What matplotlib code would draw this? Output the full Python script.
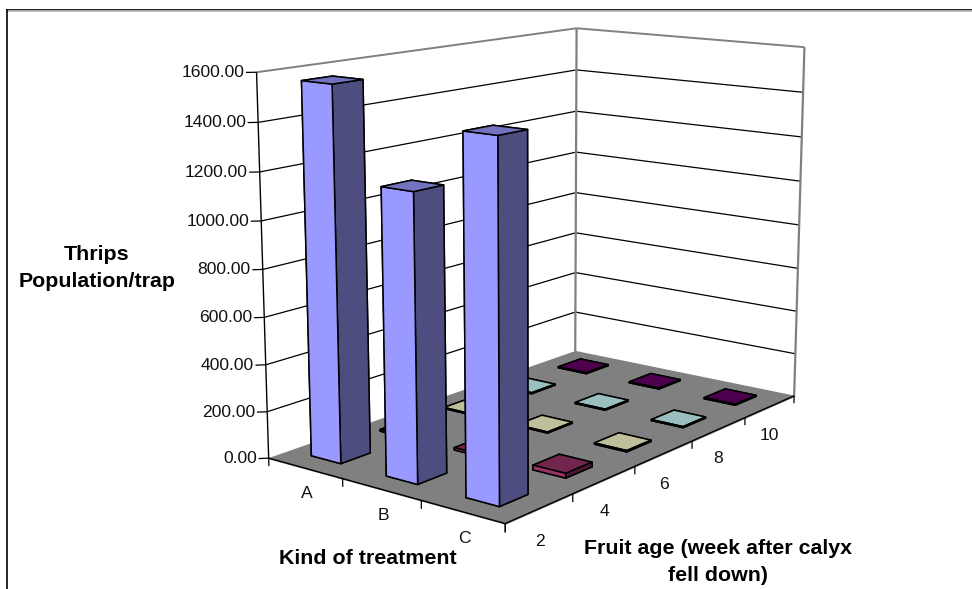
import numpy as np
import matplotlib
matplotlib.use("Agg")
import matplotlib.pyplot as plt
from matplotlib.lines import Line2D
from mpl_toolkits.mplot3d import proj3d
from mpl_toolkits.mplot3d.art3d import Line3DCollection, Poly3DCollection

plt.rcParams['font.family'] = ['Liberation Sans', 'DejaVu Sans']

# Chart values
treatments = ["A", "B", "C"]
ages = ["2", "4", "6", "8", "10"]
age_2 = [1563, 1183, 1443]
age_4 = [8, 10, 20]
age_6 = [5, 5, 6]
age_8 = [5, 5, 5]
age_10 = [5, 5, 5]
series = [age_2, age_4, age_6, age_8, age_10]
z_ticks = [0, 200, 400, 600, 800, 1000, 1200, 1400, 1600]
series_colors = ["#9999FF", "#993366", "#FFFFCC", "#CCFFFF", "#660066"]

W, H = 972, 589
Z_TOP = z_ticks[-1]
NX, NY = len(treatments), len(ages)
GREY = "#808080"
TEXT = "#111111"

fig = plt.figure(figsize=(W / 100, H / 100), dpi=100)
# square axes, wider than the figure is tall, so nothing gets clipped
ax = fig.add_axes([0, (H - W) / 2 / H, 1, W / H], projection="3d")
ax.set_axis_off()
ax.computed_zorder = False
ax.apply_aspect()

# Camera: fit a perspective projection to the box corners seen in the picture
box_corners = [(0, 0, 0), (NX, 0, 0), (NX, NY, 0), (0, NY, 0),
               (0, 0, Z_TOP), (NX, NY, Z_TOP), (0, NY, Z_TOP)]
pixel_corners = [(268.7, 458), (504.7, 524), (794, 395), (575.7, 351.7),
                 (257, 72), (805, 47.7), (575.7, 28)]
rows = []
for (x, y, z), (px, py) in zip(box_corners, pixel_corners):
    p = [x, y, z / 400, 1]
    v = H - py
    rows.append(p + [0, 0, 0, 0] + [-px * c for c in p])
    rows.append([0, 0, 0, 0] + p + [-v * c for c in p])
P = np.linalg.svd(np.array(rows))[2][-1].reshape(3, 4)
P = P @ np.diag([1, 1, 1 / 400, 1])
P = np.linalg.inv(ax.transData.get_matrix()) @ P
P = P / (P[2] @ [NX / 2, NY / 2, 0, 1])
M = np.vstack([P[0], P[1], P[2] - [0, 0, 0, 1], P[2]])
ax.get_proj = lambda: M


def line3d(xs, ys, zs, color="black", lw=0.9, zorder=2):
    pts = list(zip(xs, ys, zs))
    segs = [pts[k:k + 2] for k in range(len(pts) - 1)]
    ax.add_collection3d(Line3DCollection(segs, colors=color, linewidths=lw, zorder=zorder))


def label3d(x, y, z, s, **kw):
    u, v, _ = proj3d.proj_transform(x, y, z, M)
    ax.text2D(u, v, s, fontsize=12.6, color=TEXT, zorder=3, **kw)


# Floor
floor = [[(0, 0, 0), (NX, 0, 0), (NX, NY, 0), (0, NY, 0)]]
ax.add_collection3d(Poly3DCollection(floor, facecolors=GREY, edgecolors=GREY,
                                     linewidths=1, zorder=1))

# Wall grid lines
for t in z_ticks:
    if t > 0:
        c = GREY if t == Z_TOP else "black"
        line3d([0, 0, NX], [0, NY, NY], [t, t, t], c, 1.4 if t == Z_TOP else 0.9)
    line3d([-0.07, 0], [-0.07, 0], [t, t])
    label3d(-0.08, -0.08, t, f"{t:.2f}", ha="right", va="center")

# Box edges
line3d([0, 0], [0, 0], [0, Z_TOP], "black", 1.0)
line3d([0, 0], [NY, NY], [0, Z_TOP], GREY, 1.6)
line3d([NX, NX], [NY, NY], [0, Z_TOP], GREY, 1.6)
line3d([0, NX, NX], [0, 0, NY], [0, 0, 0], "black", 1.0)

# Ticks under the floor
for i in range(NX + 1):
    line3d([i, i], [0, 0], [0, -35])
for j in range(NY + 1):
    line3d([NX, NX], [j, j], [0, -35])

for i, name in enumerate(treatments):
    label3d(i + 0.5, 0.02, -112, name, ha="center", va="center")
for j, name in enumerate(ages):
    label3d(NX, j + 0.5, -135, name, ha="center", va="center")

# Bars, back to front
BAR_DX, BAR_DY = 0.40, 0.42
order = 10
for j in range(NY - 1, -1, -1):
    base = np.array(matplotlib.colors.to_rgb(series_colors[j]))
    # bottom, top, -y, +y, -x, +x
    faces = [base * 0.5, base * 0.75, base, base, base * 0.5, base * 0.5]
    for i in range(NX):
        ax.bar3d(i + 0.48 - BAR_DX / 2, j + 0.52 - BAR_DY / 2, 0, BAR_DX, BAR_DY,
                 series[j][i], color=faces, edgecolor="black", linewidth=1.1,
                 shade=False, zorder=order)
        order += 1

# Axis titles
fig.text(97 / W, 1 - 268 / H, "Thrips\nPopulation/trap", ha="center", va="center",
         fontsize=15.4, fontweight="bold", linespacing=1.5)
fig.text(368 / W, 1 - 559 / H, "Kind of treatment", ha="center", va="center",
         fontsize=15.4, fontweight="bold")
fig.text(718 / W, 1 - 562 / H, "Fruit age (week after calyx\nfell down)", ha="center",
         va="center", fontsize=15.4, fontweight="bold", linespacing=1.5)

# Picture frame, only top and left are visible
for xs, ys, c in [((7, W), (9.5, 9.5), "black"), ((7, W), (11, 11), "#BBBBBB"),
                  ((7, 7), (9.5, H), "black")]:
    fig.add_artist(Line2D([x / W for x in xs], [1 - y / H for y in ys], color=c, lw=1.2))

fig.savefig("out.png", dpi=100)
